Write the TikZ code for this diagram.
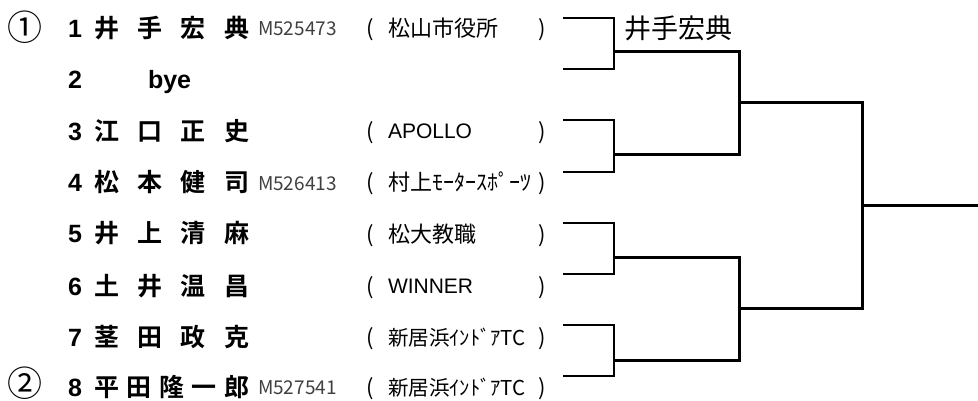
\documentclass[tikz,border=0pt]{standalone}
\usepackage{fontspec}
\setmainfont{Liberation Sans}
\newfontfamily\jp{Noto Sans CJK JP}[BoldFont={Noto Sans CJK JP Bold}]
\newcommand\spreadfour[4]{\makebox[155pt][s]{#1\hfill#2\hfill#3\hfill#4}}
\newcommand\spreadfive[5]{\makebox[155pt][s]{#1\hfill#2\hfill#3\hfill#4\hfill#5}}
\tikzset{
  txt/.style={inner sep=0pt, outer sep=0pt, anchor=base west},
  circ/.style={inner sep=0pt, outer sep=0pt, anchor=base, font=\jp\fontsize{35}{35}\selectfont},
  num/.style={txt, font=\bfseries\fontsize{25}{25}\selectfont},
  pname/.style={txt, font=\jp\bfseries\fontsize{25}{25}\selectfont},
  mid/.style={txt, font=\jp\fontsize{19}{19}\selectfont, text=black!75},
  paren/.style={txt, font=\jp\fontsize{22}{22}\selectfont},
  club/.style={txt, font=\jp\fontsize{22}{22}\selectfont},
  kclub/.style={txt, font=\jp\fontsize{20.5}{20.5}\selectfont},
  latclub/.style={txt, font=\fontsize{21}{21}\selectfont},
  win/.style={txt, font=\jp\fontsize{27}{27}\selectfont},
  r1/.style={line width=1.6pt},
  rn/.style={line width=3pt},
}
\begin{document}
\begin{tikzpicture}[x=1pt,y=-1pt]
\useasboundingbox (0,0) rectangle (978,401);
% circled seeds
\node[circ] (s1) at (25,41) {①};
\node[circ] (s2) at (25,396) {②};
% numbers
\node[num] (n1) at (68,38) {1};
\node[num] (n2) at (68,89) {2};
\node[num] (n3) at (68,141) {3};
\node[num] (n4) at (68,192) {4};
\node[num] (n5) at (68,243) {5};
\node[num] (n6) at (68,295) {6};
\node[num] (n7) at (68,346) {7};
\node[num] (n8) at (68,396) {8};
% names
\node[pname] (p1) at (94,38) {\spreadfour{井}{手}{宏}{典}};
\node[txt, font=\bfseries\fontsize{25}{25}\selectfont] (p2) at (148,89) {bye};
\node[pname] (p3) at (94,141) {\spreadfour{江}{口}{正}{史}};
\node[pname] (p4) at (94,192) {\spreadfour{松}{本}{健}{司}};
\node[pname] (p5) at (94,243) {\spreadfour{井}{上}{清}{麻}};
\node[pname] (p6) at (94,295) {\spreadfour{土}{井}{温}{昌}};
\node[pname] (p7) at (94,346) {\spreadfour{茎}{田}{政}{克}};
\node[pname] (p8) at (94,396) {\spreadfive{平}{田}{隆}{一}{郎}};
% member ids
\node[mid] (m1) at (258,36) {M525473};
\node[mid] (m4) at (258,190) {M526413};
\node[mid] (m8) at (258,394) {M527541};
% clubs
\node[paren] (o1) at (366,37) {(};
\node[club] (c1) at (388,37) {松山市役所};
\node[paren] (e1) at (538,37) {)};
\node[paren] (o3) at (366,140) {(};
\node[latclub] (c3) at (388,139) {APOLLO};
\node[paren] (e3) at (538,140) {)};
\node[paren] (o4) at (366,191) {(};
\node[club] (c4) at (388,191) {村上ﾓｰﾀｰｽﾎﾟｰﾂ};
\node[paren] (e4) at (538,191) {)};
\node[paren] (o5) at (366,242) {(};
\node[club] (c5) at (388,242) {松大教職};
\node[paren] (e5) at (538,242) {)};
\node[paren] (o6) at (366,294) {(};
\node[latclub] (c6) at (388,293) {WINNER};
\node[paren] (e6) at (538,294) {)};
\node[paren] (o7) at (366,345) {(};
\node[kclub] (c7) at (388,345) {新居浜ｲﾝﾄﾞｱTC};
\node[paren] (e7) at (538,345) {)};
\node[paren] (o8) at (366,395) {(};
\node[kclub] (c8) at (388,395) {新居浜ｲﾝﾄﾞｱTC};
\node[paren] (e8) at (538,395) {)};
% winner
\node[win] (w) at (624,39) {井手宏典};
% bracket coordinates
\foreach \i/\y in {1/18,2/69,3/120,4/172,5/223,6/274,7/325,8/376}{
  \coordinate (a\i) at (563,\y);
  \coordinate (b\i) at (614,\y);
}
\foreach \i/\y in {1/52,2/155,3/257,4/360}{
  \coordinate (f\i) at (614,\y);
  \coordinate (g\i) at (739,\y);
}
\foreach \i/\y in {1/103,2/308}{
  \coordinate (h\i) at (739,\y);
  \coordinate (k\i) at (862,\y);
}
\coordinate (k0) at (862,206);
\coordinate (fin) at (978,206);
% first round
\draw[r1] (a1) -- (b1) -- (b2) -- (a2);
\draw[r1] (a3) -- (b3) -- (b4) -- (a4);
\draw[r1] (a5) -- (b5) -- (b6) -- (a6);
\draw[r1] (a7) -- (b7) -- (b8) -- (a8);
% second round
\draw[rn] (f1) -- (g1) -- (g2) -- (f2);
\draw[rn] (f3) -- (g3) -- (g4) -- (f4);
% semi
\draw[rn] (h1) -- (k1) -- (k2) -- (h2);
% final
\draw[rn] (k0) -- (fin);
\end{tikzpicture}
\end{document}
